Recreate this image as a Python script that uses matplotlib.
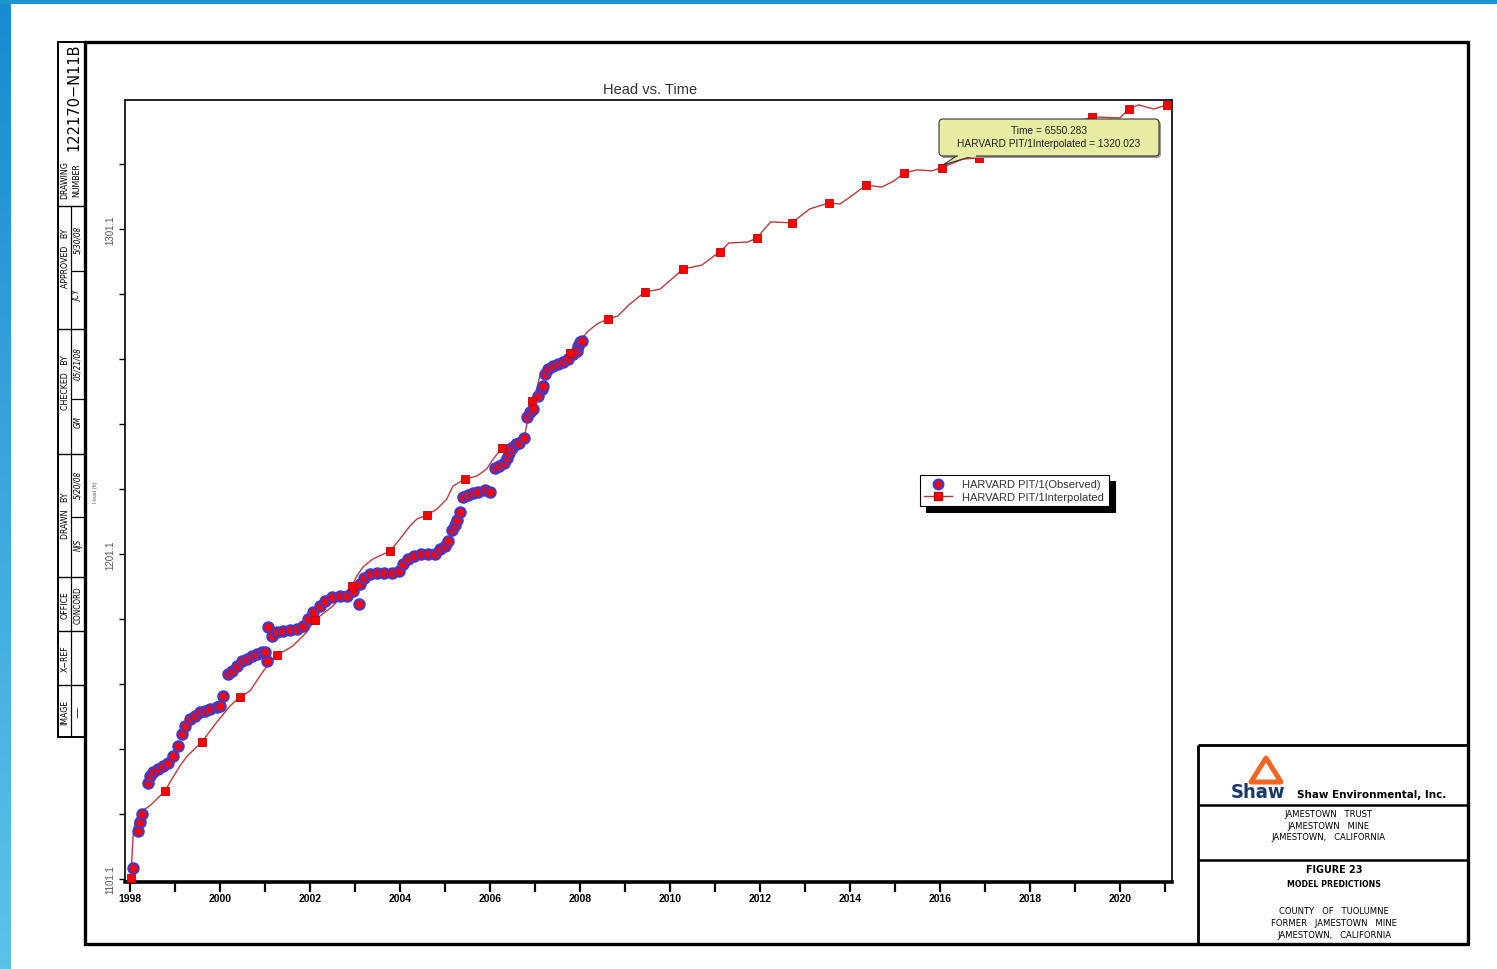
import numpy as np
import matplotlib
matplotlib.use('Agg')
import matplotlib.pyplot as plt
from matplotlib.transforms import Affine2D
from matplotlib.lines import Line2D
from matplotlib.patches import Rectangle, Polygon, FancyBboxPatch
from matplotlib.colors import LinearSegmentedColormap
from matplotlib import font_manager as fm

# ---------------- data ----------------
obs_t = [1998.07, 1998.18, 1998.22, 1998.27, 1998.40, 1998.44, 1998.51, 1998.62, 1998.73, 1998.84,
         1998.96, 1999.07, 1999.16, 1999.22, 1999.33, 1999.44, 1999.56, 1999.67, 1999.78, 1999.93,
         2000.00, 2000.07, 2000.18, 2000.27, 2000.38, 2000.49, 2000.60, 2000.71, 2000.82, 2000.93,
         2001.00, 2001.04, 2001.07, 2001.16, 2001.27, 2001.40, 2001.56, 2001.71, 2001.84, 2001.96,
         2002.07, 2002.22, 2002.33, 2002.49, 2002.67, 2002.82, 2002.96, 2003.09, 2003.11, 2003.20,
         2003.33, 2003.49, 2003.64, 2003.82, 2003.98, 2004.07, 2004.18, 2004.31, 2004.47, 2004.62,
         2004.78, 2004.89, 2005.00, 2005.07, 2005.16, 2005.22, 2005.27, 2005.33, 2005.40, 2005.51,
         2005.62, 2005.73, 2005.89, 2006.00, 2006.11, 2006.20, 2006.31, 2006.38, 2006.42, 2006.49,
         2006.58, 2006.64, 2006.76, 2006.82, 2006.89, 2006.96, 2007.07, 2007.16, 2007.18, 2007.22,
         2007.29, 2007.40, 2007.51, 2007.62, 2007.73, 2007.84, 2007.93, 2007.96, 2008.00, 2008.04]
obs_h = [1104.5, 1115.9, 1118.6, 1121.1, 1130.6, 1132.8, 1134.0, 1134.9, 1135.9, 1136.8,
         1138.9, 1142.0, 1145.7, 1148.2, 1150.3, 1151.3, 1152.5, 1152.8, 1153.4, 1154.0,
         1154.3, 1157.4, 1164.2, 1165.1, 1166.6, 1168.2, 1168.8, 1169.7, 1170.3, 1171.0,
         1171.0, 1168.2, 1178.6, 1175.9, 1177.1, 1177.4, 1177.7, 1178.0, 1179.0, 1181.1,
         1183.3, 1185.1, 1186.6, 1187.9, 1188.2, 1188.2, 1189.7, 1185.7, 1191.9, 1193.7,
         1194.9, 1195.3, 1195.3, 1195.3, 1195.9, 1198.0, 1199.6, 1200.5, 1201.1, 1201.1,
         1201.1, 1202.6, 1203.6, 1205.1, 1208.5, 1210.0, 1211.6, 1214.0, 1218.6, 1219.3,
         1219.9, 1220.2, 1220.8, 1220.2, 1227.6, 1228.2, 1229.1, 1230.6, 1232.2, 1233.7,
         1234.9, 1235.3, 1236.8, 1243.3, 1244.8, 1245.7, 1249.7, 1251.9, 1252.8, 1256.5,
         1258.0, 1259.0, 1259.6, 1260.2, 1261.1, 1262.6, 1263.6, 1265.1, 1266.3, 1266.6]

interp_t = [1998.02, 1998.07, 1998.11, 1998.22, 1998.44, 1998.78, 1998.89, 1999.11, 1999.27, 1999.60,
            1999.93, 2000.22, 2000.44, 2000.67, 2000.89, 2001.11, 2001.27, 2001.62, 2001.93, 2002.11,
            2002.51, 2002.93, 2003.04, 2003.18, 2003.40, 2003.78, 2004.00, 2004.22, 2004.38, 2004.60,
            2004.82, 2005.04, 2005.18, 2005.44, 2005.71, 2005.93, 2006.07, 2006.27, 2006.60, 2006.78,
            2006.84, 2006.93, 2007.04, 2007.11, 2007.33, 2007.78, 2008.00, 2008.16, 2008.38, 2008.62,
            2008.84, 2009.11, 2009.44, 2009.78, 2010.04, 2010.29, 2010.71, 2010.98, 2011.11, 2011.31,
            2011.73, 2011.93, 2012.24, 2012.71, 2013.11, 2013.53, 2013.78, 2014.04, 2014.36, 2014.71,
            2014.98, 2015.20, 2015.49, 2015.82, 2016.04, 2016.51, 2016.87, 2017.71, 2018.53, 2019.38,
            2020.00, 2020.20, 2020.42, 2020.76, 2021.04]
interp_h = [1101.4, 1114.3, 1118.6, 1121.7, 1123.6, 1128.2, 1130.9, 1135.9, 1138.9, 1143.3,
            1149.4, 1154.3, 1157.1, 1159.0, 1163.6, 1167.9, 1170.0, 1172.8, 1177.1, 1180.8,
            1185.1, 1191.3, 1194.3, 1197.1, 1199.6, 1202.0, 1205.7, 1209.7, 1211.9, 1213.1,
            1214.9, 1218.0, 1222.0, 1224.2, 1225.1, 1227.3, 1230.3, 1233.7, 1236.5, 1238.0,
            1242.6, 1248.2, 1251.9, 1255.9, 1259.0, 1263.0, 1266.3, 1269.4, 1271.9, 1273.4,
            1274.3, 1278.0, 1281.7, 1282.6, 1285.7, 1288.8, 1290.0, 1292.8, 1294.0, 1296.8,
            1297.1, 1298.3, 1303.3, 1303.0, 1307.3, 1309.1, 1308.8, 1311.3, 1314.6, 1314.0,
            1315.9, 1318.3, 1319.3, 1319.0, 1320.0, 1322.6, 1323.0, 1326.3, 1331.3, 1335.6,
            1335.3, 1338.0, 1339.3, 1338.0, 1339.3]

sq_t = [1998.02, 1998.78, 1999.60, 2000.44, 2001.27, 2002.11, 2002.93, 2003.78, 2004.60, 2005.44,
        2006.27, 2006.93, 2007.78, 2008.62, 2009.44, 2010.29, 2011.11, 2011.93, 2012.71, 2013.53,
        2014.36, 2015.20, 2016.04, 2016.87, 2017.71, 2018.53, 2019.38, 2020.20, 2021.04]
sq_h = [1101.4, 1128.2, 1143.3, 1157.1, 1170.0, 1180.8, 1191.3, 1202.0, 1213.1, 1224.2,
        1233.7, 1248.2, 1263.0, 1273.4, 1281.7, 1288.8, 1294.0, 1298.3, 1303.0, 1309.1,
        1314.6, 1318.3, 1320.0, 1323.0, 1326.3, 1331.3, 1335.6, 1338.0, 1339.3]

x_ticks = [1998, 1999, 2000, 2001, 2002, 2003, 2004, 2005, 2006, 2007, 2008, 2009, 2010,
           2011, 2012, 2013, 2014, 2015, 2016, 2017, 2018, 2019, 2020, 2021]
x_labels = ['1998', '', '2000', '', '2002', '', '2004', '', '2006', '', '2008', '', '2010',
            '', '2012', '', '2014', '', '2016', '', '2018', '', '2020', '']
y_ticks = [1101.1, 1121.1, 1141.1, 1161.1, 1181.1, 1201.1, 1221.1, 1241.1, 1261.1, 1281.1,
           1301.1, 1321.1]
y_labels = ['1101.1', '', '', '', '', '1201.1', '', '', '', '', '1301.1', '']

legend_labels = ['HARVARD PIT/1(Observed)', 'HARVARD PIT/1Interpolated']
tooltip_lines = ['Time = 6550.283', 'HARVARD PIT/1Interpolated = 1320.023']

# ---------------- fonts ----------------
names = {f.name for f in fm.fontManager.ttflist}
has_dv_cond = any(f.name == 'DejaVu Sans' and str(f.stretch) in ('condensed', '400', 'semi-condensed')
                  and 'Condensed' in f.fname for f in fm.fontManager.ttflist)
if 'Liberation Sans Narrow' in names:
    NARROW, NSTRETCH, NF = 'Liberation Sans Narrow', 'normal', 1.0
elif has_dv_cond:
    NARROW, NSTRETCH, NF = 'DejaVu Sans', 'condensed', 0.9
else:
    NARROW, NSTRETCH, NF = 'Liberation Sans', 'normal', 0.88
plt.rcParams['font.family'] = ['Liberation Sans', 'DejaVu Sans']

W, H = 1497, 970
fig = plt.figure(figsize=(W / 100, H / 100), dpi=100)
fig.patch.set_facecolor('white')
PX = Affine2D().scale(1.0 / W, -1.0 / H).translate(0, 1) + fig.transFigure


def hline(x0, x1, y, lw=1.0, c='k'):
    fig.add_artist(Line2D([x0, x1], [y, y], transform=PX, color=c, lw=lw, solid_capstyle='butt'))


def vline(x, y0, y1, lw=1.0, c='k'):
    fig.add_artist(Line2D([x, x], [y0, y1], transform=PX, color=c, lw=lw, solid_capstyle='butt'))


def txt(x, y, s, size, rot=0, family=None, **kw):
    kw.setdefault('ha', 'center')
    kw.setdefault('va', 'center')
    if family is not None:
        kw['family'] = family
        if family == NARROW:
            kw['stretch'] = NSTRETCH
    fig.text(x, y, s, transform=PX, fontsize=size, rotation=rot, **kw)


# blue borders
gax = fig.add_axes([0, 0, 11 / W, 1])
gax.axis('off')
cmap = LinearSegmentedColormap.from_list('edge', ['#1a8bcf', '#5cc2ea'])
gax.imshow(np.linspace(0, 1, 256).reshape(-1, 1), aspect='auto', cmap=cmap,
           extent=[0, 1, 0, 1], origin='upper')
fig.add_artist(Rectangle((0, 0), W, 5, transform=PX, color='#1d94d2', lw=0))

# ---------------- main axes ----------------
ax = fig.add_axes([125 / W, 1 - 883 / H, (1172 - 125) / W, (883 - 101) / H])
ax.plot(interp_t, interp_h, color='#b83c3c', lw=1.0, zorder=2)
ax.plot(obs_t, obs_h, ls='none', marker='o', ms=7.5, mfc='#ff0000', mec='#3c3cd2',
        mew=1.5, zorder=3)
ax.plot(sq_t, sq_h, ls='none', marker='s', ms=6.3, mfc='#ff0000', mec='#c00000',
        mew=0.6, zorder=4)

ax.set_xlim(1997.89, 2021.16)
ax.set_ylim(1100.2, 1340.8)
ax.set_xticks(x_ticks)
ax.set_xticklabels(x_labels, fontweight='bold', fontsize=7.5)
ax.set_yticks(y_ticks)
ax.set_yticklabels(y_labels, rotation=90, va='center', fontsize=7, color='#555555')
ax.tick_params(axis='x', direction='out', length=7, width=1.6, pad=1)
ax.tick_params(axis='y', direction='out', length=4, width=1.0, pad=3)
for s in ['top', 'right', 'left']:
    ax.spines[s].set_linewidth(1.2)
ax.spines['bottom'].set_linewidth(2.6)
ax.set_ylabel('Head (ft)', fontsize=4, color='#666666', labelpad=5)

txt(650, 90, 'Head vs. Time', 10.5, color='#333333')

# legend
h_obs = Line2D([], [], ls='none', marker='o', ms=7, mfc='#ff0000', mec='#3c3cd2', mew=1.6)
h_int = Line2D([], [], color='#b83c3c', lw=1.0, marker='s', ms=6, mfc='#ff0000', mec='#c00000')
leg = fig.legend([h_obs, h_int], legend_labels, loc='upper left',
                 bbox_to_anchor=(920 / W, 1 - 476 / H), bbox_transform=fig.transFigure,
                 borderaxespad=0, fontsize=8, frameon=True, fancybox=False,
                 edgecolor='black', framealpha=1, handlelength=2.5, handletextpad=0.9,
                 labelspacing=0.2, borderpad=0.4,
                 shadow={'color': 'black', 'alpha': 1.0, 'ox': 4.3, 'oy': -4.3})
leg.get_frame().set_linewidth(0.8)
for t in leg.get_texts():
    t.set_color('#333333')

# tooltip
fig.add_artist(FancyBboxPatch((941, 122), 220, 37, boxstyle='round,pad=0,rounding_size=4',
                              transform=PX, fc='#999999', ec='none', zorder=9))
fig.add_artist(Polygon([(958, 156), (976, 156), (943, 166)], closed=True, transform=PX,
                       fc='#e8eca3', ec='#333333', lw=0.8, zorder=10))
fig.add_artist(FancyBboxPatch((939, 120), 220, 37, boxstyle='round,pad=0,rounding_size=4',
                              transform=PX, fc='#e8eca3', ec='#333333', lw=0.8, zorder=10))
fig.add_artist(Line2D([959, 975], [156.5, 156.5], transform=PX, color='#e8eca3', lw=1.5, zorder=11))
txt(1049, 131, tooltip_lines[0], 7.3, color='#222222', zorder=12)
txt(1049, 144, tooltip_lines[1], 7.3, color='#222222', zorder=12)

# ---------------- outer frame ----------------
fig.add_artist(Rectangle((85, 43), 1383, 902, transform=PX, fill=False, ec='black', lw=2.4))

# left title block
fig.add_artist(Rectangle((58, 43), 27, 695, transform=PX, fill=False, ec='black', lw=1.4))
for y in [207, 330, 455, 578, 632, 686]:
    hline(58, 85, y, lw=1.0)
vline(71, 207, 738, lw=0.9)
for y in [272, 400, 518]:
    hline(71, 85, y, lw=0.9)

txt(74, 97, '122170\u2212N11B', 13 * NF, rot=90, family=NARROW)
txt(65, 180, 'DRAWING', 7 * NF, rot=90, family=NARROW)
txt(77, 180, 'NUMBER', 7 * NF, rot=90, family=NARROW)
txt(65, 258, 'APPROVED   BY', 7 * NF, rot=90, family=NARROW)
txt(78, 240, '5/30/08', 6.5 * NF, rot=90, family=NARROW, style='italic')
txt(78, 296, 'JCY', 6.5 * NF, rot=90, family=NARROW, style='italic')
txt(65, 383, 'CHECKED   BY', 7 * NF, rot=90, family=NARROW)
txt(78, 364, '05/21/08', 6.5 * NF, rot=90, family=NARROW, style='italic')
txt(78, 422, 'GM', 6.5 * NF, rot=90, family=NARROW, style='italic')
txt(65, 516, 'DRAWN   BY', 7 * NF, rot=90, family=NARROW)
txt(78, 485, '5/20/08', 6.5 * NF, rot=90, family=NARROW, style='italic')
txt(78, 545, 'NJS', 6.5 * NF, rot=90, family=NARROW, style='italic')
txt(65, 605, 'OFFICE', 7 * NF, rot=90, family=NARROW)
txt(78, 605, 'CONCORD', 6.5 * NF, rot=90, family=NARROW)
txt(65, 659, 'X\u2212REF', 7 * NF, rot=90, family=NARROW)
txt(65, 712, 'IMAGE', 7 * NF, rot=90, family=NARROW)
txt(78, 712, '\u2014', 7, rot=90)

# bottom-right title block
vline(1198, 746, 945, lw=2.0)
hline(1198, 1468, 746, lw=2.0)
hline(1198, 1468, 806, lw=1.8)
hline(1198, 1468, 861, lw=1.8)

fig.add_artist(Polygon([(1266, 759), (1251, 783), (1281, 783)], closed=True, transform=PX,
                       fill=False, ec='#f26522', lw=3.6, joinstyle='round'))
txt(1258, 793, 'Shaw', 14.5, weight='heavy', color='#1b3a6b', family='DejaVu Sans')
txt(1297, 795, 'Shaw Environmental, Inc.', 9.2 * NF, ha='left', weight='bold', family=NARROW)
txt(1328, 815, 'JAMESTOWN   TRUST', 7.5 * NF, family=NARROW)
txt(1328, 827, 'JAMESTOWN   MINE', 7.5 * NF, family=NARROW)
txt(1328, 838, 'JAMESTOWN,   CALIFORNIA', 7.5 * NF, family=NARROW)
txt(1334, 870, 'FIGURE 23', 8.5 * NF, weight='bold', family=NARROW)
txt(1334, 885, 'MODEL PREDICTIONS', 7 * NF, weight='bold', family=NARROW)
txt(1334, 912, 'COUNTY   OF   TUOLUMNE', 7.5 * NF, family=NARROW)
txt(1334, 924, 'FORMER   JAMESTOWN   MINE', 7.5 * NF, family=NARROW)
txt(1334, 936, 'JAMESTOWN,   CALIFORNIA', 7.5 * NF, family=NARROW)

fig.savefig('out.png', dpi=100)
